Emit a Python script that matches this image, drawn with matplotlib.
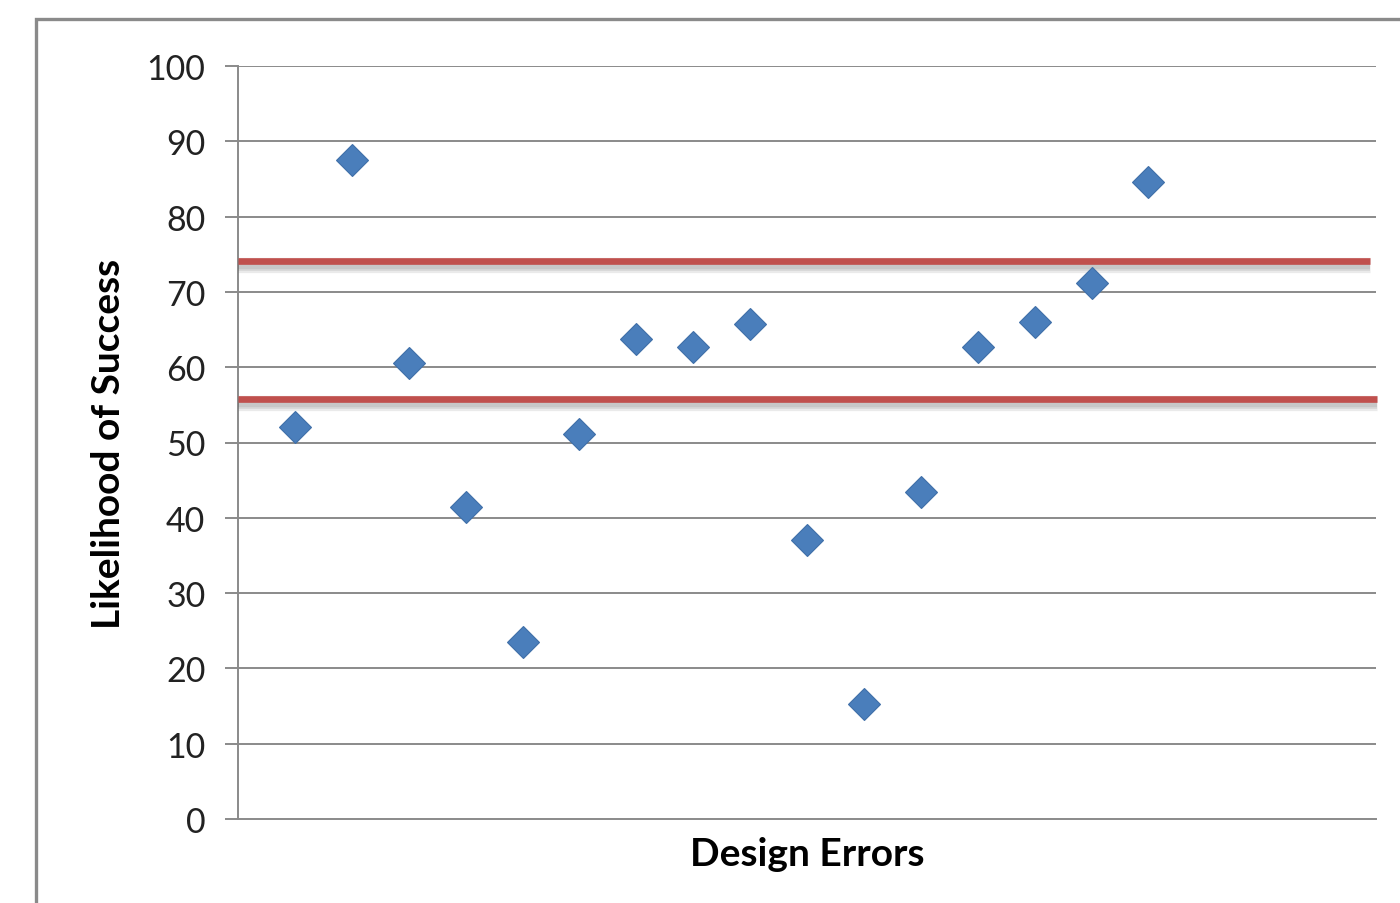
import numpy as np
import matplotlib as mpl
mpl.use('Agg')
import matplotlib.pyplot as plt
import matplotlib.patheffects as pe
from matplotlib.patches import Rectangle

# Data
design_errors = np.arange(1, 17)
likelihood = [52.1, 87.5, 60.6, 41.4, 23.5, 51.1, 63.7, 62.7,
              65.7, 37.1, 15.3, 43.4, 62.7, 66.0, 71.2, 84.6]

# Red reference bands (value, right end in x units)
band_levels = [74.1, 55.8]
band_ends = [19.9, 20.02]

yticks = np.arange(0, 101, 10)

plt.rcParams['font.family'] = ['Lato', 'DejaVu Sans']

fig = plt.figure(figsize=(14, 9.04), dpi=100)
ax = fig.add_axes([238 / 1400., 84 / 904., 1138 / 1400., 753 / 904.])

grey = '#8a8a8a'

# outer chart border (cropped by the image edges)
fig.patches.append(Rectangle((36 / 1400., -0.05), 1.2, (904 - 20) / 904. + 0.05,
                             transform=fig.transFigure, fill=False,
                             edgecolor=grey, linewidth=2.4, zorder=0))

ax.set_xlim(0, 20)
ax.set_ylim(0, 100)
ax.set_yticks(yticks)
ax.set_xticks([])

for y in yticks[1:]:
    ax.axhline(y, color=grey, linewidth=1.4, zorder=1)

for side in ['top', 'right']:
    ax.spines[side].set_visible(False)
ax.spines['left'].set_color(grey)
ax.spines['left'].set_linewidth(1.4)
ax.spines['bottom'].set_color(grey)
ax.spines['bottom'].set_linewidth(1.4)
ax.tick_params(axis='y', direction='out', length=9.5, width=1.4, color=grey,
               labelsize=24.5, pad=14, labelcolor='#222222')

ax.plot(design_errors, likelihood, linestyle='none', marker='D', markersize=16.5,
        color='#4a7ebb', markeredgecolor='#3f6fa8', markeredgewidth=0.8,
        zorder=4, clip_on=False)

# soft drop shadow under the red lines
shadow = [pe.SimpleLineShadow(offset=(0, -3), shadow_color='#555555', alpha=0.12,
                              rho=1, linewidth=lw) for lw in (11, 8.5, 6)]
for level, xend in zip(band_levels, band_ends):
    ax.plot([0, xend], [level, level], color='#c0504d', linewidth=4.8,
            solid_capstyle='butt', zorder=3, clip_on=False,
            path_effects=shadow + [pe.Normal()])

ax.set_xlabel('Design Errors', fontsize=28, fontweight='bold', labelpad=12)
ax.set_ylabel('Likelihood of Success', fontsize=28, fontweight='bold', labelpad=14.5)

fig.savefig('out.png', dpi=100)
